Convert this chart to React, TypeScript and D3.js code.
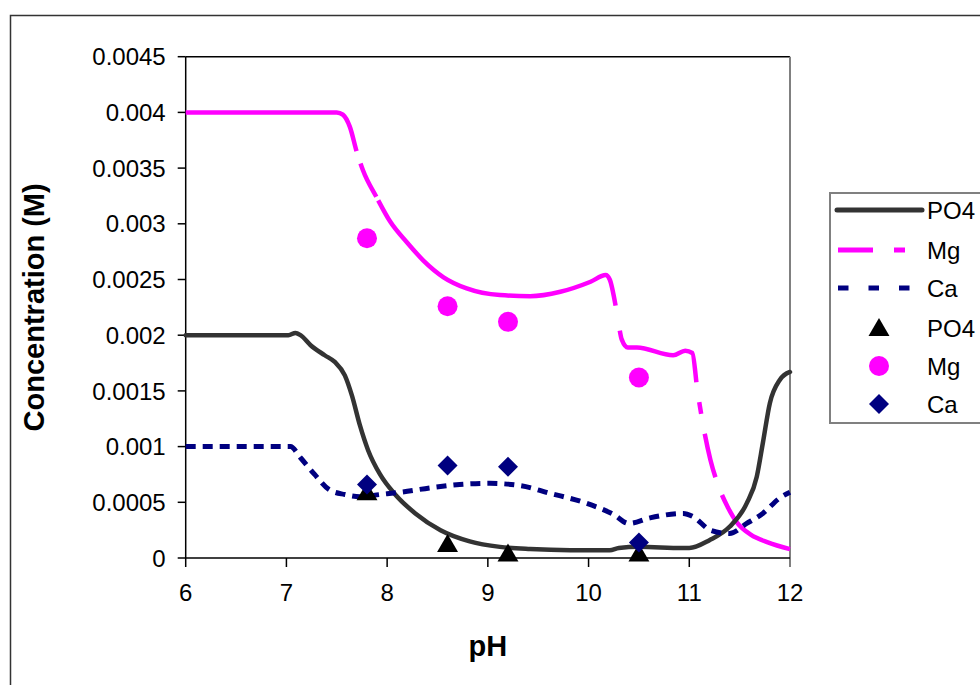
import React from "react";
import * as d3 from "d3";

const xTicks = [6, 7, 8, 9, 10, 11, 12];
const yTicks = [0, 0.0005, 0.001, 0.0015, 0.002, 0.0025, 0.003, 0.0035, 0.004, 0.0045];
const yTickLabels = ["0", "0.0005", "0.001", "0.0015", "0.002", "0.0025", "0.003", "0.0035", "0.004", "0.0045"];

const po4Line: [number, number][] = [
  [6, 0.002], [7.02, 0.002], [7.09, 0.00202], [7.14, 0.002], [7.24, 0.00191], [7.38, 0.00182],
  [7.48, 0.00176], [7.58, 0.00164], [7.65, 0.00146], [7.73, 0.00119], [7.81, 0.00097],
  [7.93, 0.00075], [8.08, 0.00057], [8.28, 0.0004], [8.53, 0.00025], [8.82, 0.00015],
  [9.12, 0.0001], [9.42, 0.00008], [9.82, 0.00007], [10.21, 0.00007], [10.3, 0.00009],
  [10.5, 0.0001], [10.93, 0.00009], [11.0, 0.00009], [11.2, 0.00016], [11.4, 0.00028],
  [11.57, 0.00049], [11.67, 0.00073], [11.73, 0.00103], [11.8, 0.00139], [11.9, 0.0016], [12, 0.00167],
];

const mgLine: [number, number][] = [
  [6, 0.004], [7.5, 0.004], [7.56, 0.00398], [7.63, 0.00387], [7.7, 0.00364], [7.76, 0.00348],
  [7.9, 0.00323], [8.03, 0.00302], [8.2, 0.00283], [8.36, 0.00267], [8.56, 0.00252],
  [8.79, 0.00242], [9.12, 0.00236], [9.42, 0.00235], [9.72, 0.00239], [10.02, 0.00248],
  [10.17, 0.00254], [10.21, 0.0025], [10.28, 0.00221], [10.33, 0.00196], [10.39, 0.00189],
  [10.48, 0.00189], [10.84, 0.00182], [10.96, 0.00186], [11.03, 0.00184], [11.08, 0.00151],
  [11.14, 0.00118], [11.21, 0.00088], [11.28, 0.00067], [11.38, 0.00046], [11.48, 0.00031],
  [11.61, 0.00021], [11.78, 0.00014], [12, 0.00008],
];

const caLine: [number, number][] = [
  [6, 0.001], [7.04, 0.001], [7.14, 0.0009], [7.28, 0.00075], [7.43, 0.00061], [7.58, 0.00057],
  [7.73, 0.00055], [7.93, 0.00057], [8.13, 0.00059], [8.43, 0.00063], [8.72, 0.00066],
  [9.02, 0.00067], [9.32, 0.00065], [9.62, 0.00058], [9.95, 0.0005], [10.25, 0.00039],
  [10.4, 0.00031], [10.61, 0.00036], [10.94, 0.0004], [11.04, 0.00037], [11.21, 0.00025],
  [11.4, 0.00022], [11.57, 0.00031], [11.73, 0.0004], [11.9, 0.00054], [12, 0.00059],
];

const measuredPH = [7.8, 8.6, 9.2, 10.5];
const po4Measured = [0.00059, 0.000125, 0.00004, 0.00004];
const mgMeasured = [0.00287, 0.00226, 0.00212, 0.00162];
const caMeasured = [0.00066, 0.00083, 0.00082, 0.00014];

const W = 980;
const H = 685;
const plot = { left: 185.7, right: 790, top: 56.7, bottom: 558 };
const FONT = "'Liberation Sans', Arial, sans-serif";
// Excel-like long-dash-dot rendering along the dense Mg series
const MG_DASH = "197 13 37 4 304 25 116 20 12 20 45 19 400";

export default function App() {
  const x = d3.scaleLinear().domain([6, 12]).range([plot.left, plot.right]);
  const y = d3.scaleLinear().domain([0, 0.0045]).range([plot.bottom, plot.top]);
  const line = d3
    .line<[number, number]>()
    .x((d) => x(d[0]))
    .y((d) => y(d[1]))
    .curve(d3.curveMonotoneX);

  const tri = d3.symbol().type(d3.symbolTriangle).size(190)() as string;
  const dia = (cx: number, cy: number, r: number) =>
    `M${cx},${cy - r}L${cx + r},${cy}L${cx},${cy + r}L${cx - r},${cy}Z`;

  const legendRows = [210, 250, 288, 328, 366, 404];

  return (
    <svg
      width={W}
      height={H}
      style={{ position: "absolute", left: 0, top: 0, background: "#fff" }}
      fontFamily={FONT}
    >
      <rect x={0} y={0} width={W} height={H} fill="#fff" />
      {/* outer chart border */}
      <path d={`M10.5,${H + 5}V15.5H${W + 5}`} fill="none" stroke="#333" strokeWidth={1.5} />

      {/* plot frame */}
      <line x1={plot.left} x2={plot.right} y1={plot.top} y2={plot.top} stroke="#000" strokeWidth={1.5} />
      <line x1={plot.right} x2={plot.right} y1={plot.top} y2={plot.bottom + 9} stroke="#808080" strokeWidth={2} />
      <line x1={plot.left} x2={plot.left} y1={plot.top} y2={plot.bottom} stroke="#000" strokeWidth={1.5} />
      <line x1={plot.left} x2={plot.right} y1={plot.bottom} y2={plot.bottom} stroke="#000" strokeWidth={1.5} />

      {/* y ticks */}
      {yTicks.map((t, i) => (
        <g key={"y" + i}>
          <line x1={plot.left - 8} x2={plot.left} y1={y(t)} y2={y(t)} stroke="#000" strokeWidth={1.5} />
          <text x={plot.left - 20} y={y(t)} dy="0.36em" textAnchor="end" fontSize={24} fill="#000">
            {yTickLabels[i]}
          </text>
        </g>
      ))}
      {/* x ticks */}
      {xTicks.map((t) => (
        <g key={"x" + t}>
          {t !== 12 && (
            <line x1={x(t)} x2={x(t)} y1={plot.bottom} y2={plot.bottom + 9} stroke="#000" strokeWidth={1.5} />
          )}
          <text x={x(t)} y={plot.bottom + 43} textAnchor="middle" fontSize={24} fill="#000">
            {t}
          </text>
        </g>
      ))}

      {/* axis titles */}
      <text
        transform={`translate(44,${(plot.top + plot.bottom) / 2}) rotate(-90)`}
        textAnchor="middle"
        fontSize={29}
        fontWeight="bold"
        fill="#000"
      >
        Concentration (M)
      </text>
      <text x={(plot.left + plot.right) / 2} y={656} textAnchor="middle" fontSize={29} fontWeight="bold" fill="#000">
        pH
      </text>

      {/* lines */}
      <path d={line(mgLine) || ""} fill="none" stroke="#FF00FF" strokeWidth={4.5} strokeDasharray={MG_DASH} />
      <path d={line(po4Line) || ""} fill="none" stroke="#333333" strokeWidth={4.5} strokeLinecap="round" />
      <path d={line(caLine) || ""} fill="none" stroke="#000080" strokeWidth={5} strokeDasharray="10 7" />

      {/* measured points */}
      {measuredPH.map((p, i) => (
        <g key={"m" + i}>
          <path d={tri} transform={`translate(${x(p)},${y(po4Measured[i]) + 2})`} fill="#000" />
          <circle cx={x(p)} cy={y(mgMeasured[i])} r={10} fill="#FF00FF" />
          <path d={dia(x(p), y(caMeasured[i]), 10)} fill="#000080" />
        </g>
      ))}

      {/* legend */}
      <rect x={830} y={193} width={170} height={230} fill="#fff" stroke="#808080" strokeWidth={2} />
      <line x1={837} x2={922} y1={legendRows[0]} y2={legendRows[0]} stroke="#333" strokeWidth={5} strokeLinecap="round" />
      <line x1={838} x2={905} y1={legendRows[1]} y2={legendRows[1]} stroke="#FF00FF" strokeWidth={5} strokeDasharray="35 21 11 100" />
      <line x1={838} x2={911} y1={legendRows[2]} y2={legendRows[2]} stroke="#000080" strokeWidth={5} strokeDasharray="10.5 20" />
      <path d={tri} transform={`translate(879,${legendRows[3] + 2})`} fill="#000" />
      <circle cx={879} cy={legendRows[4]} r={10} fill="#FF00FF" />
      <path d={dia(879, legendRows[5], 10)} fill="#000080" />
      {["PO4", "Mg", "Ca", "PO4", "Mg", "Ca"].map((s, i) => (
        <text key={"l" + i} x={927} y={legendRows[i]} dy="0.36em" fontSize={24} fill="#000">
          {s}
        </text>
      ))}
    </svg>
  );
}
